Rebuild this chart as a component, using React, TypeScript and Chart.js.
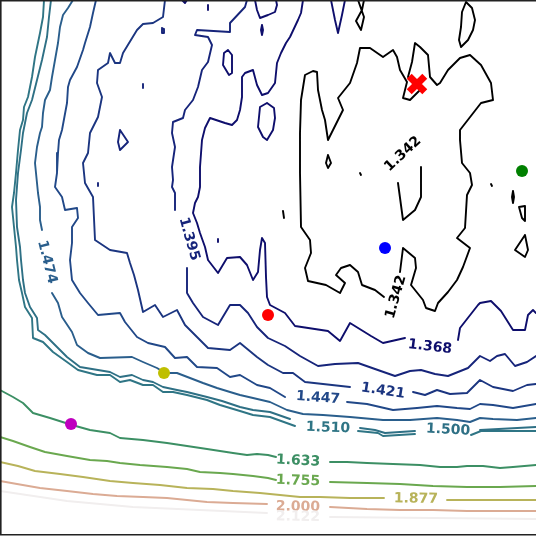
import React, { useEffect, useRef } from 'react';
import { Chart, registerables } from 'chart.js';

Chart.register(...registerables);

type Pt = [number, number];

// plot domain (data units)
const xDomain = [0, 536];
const yDomain = [0, 536];

// contour levels and colours
const levelNames = ['1.342', '1.368', '1.395', '1.421', '1.447', '1.474', '1.500', '1.510', '1.633', '1.755', '1.877', '2.000', '2.122'];
const levelColors = ['#000000', '#0e0e6c', '#16247a', '#1b3580', '#214888', '#2a5e8c', '#2e7085', '#2f7585', '#3c8f64', '#6aa84f', '#b8b35a', '#dbab94', '#f1eeee'];

const c1342: Pt[][] = [
  [[400,272],[403,248],[415,258],[416,268],[411,285],[423,300],[426,308],[435,311],[438,303],[448,292],[457,280],[463,267],[470,248],[457,238],[465,228],[467,195],[472,185],[470,173],[462,163],[460,140],[460,130],[481,103],[493,100],[491,83],[481,65],[470,55],[460,58],[448,70],[440,83],[437,85],[430,77],[428,55],[420,47],[415,43],[412,62],[408,77],[415,83],[423,87],[410,100],[403,98],[407,82],[400,70],[397,57],[393,50],[383,57],[370,48],[360,48],[357,63],[350,83],[338,98],[343,110],[333,130],[328,140],[325,120],[322,110],[318,90],[317,72],[313,71],[305,75],[301,100],[300,133],[300,173],[301,227],[310,240],[311,253],[305,268],[308,281],[326,285],[340,293],[345,283],[336,275],[341,268],[350,265],[358,272],[362,285],[375,290],[384,297]],
  [[421,167],[421,197],[415,210],[403,220],[398,183]],
  [[328,155],[331,163],[328,168],[326,163],[328,155]],
  [[358,0],[364,17],[361,30],[356,21],[362,10],[364,0]],
  [[466,2],[472,8],[475,20],[473,30],[468,40],[461,47],[459,40],[461,27],[462,12],[466,2]],
  [[360,173],[361,175]],
  [[491,184],[492,186]],
  [[283,211],[284,218]],
  [[513,191],[514,197],[513,203],[512,197],[513,191]],
  [[519,207],[525,206],[525,221],[522,218],[519,207]],
  [[525,235],[528,250],[525,257],[515,250],[525,235]],
];

const c1368: Pt[][] = [
  [[303,0],[301,13],[298,20],[290,37],[286,43],[281,53],[277,63],[275,83],[268,93],[262,95],[257,85],[253,70],[245,73],[242,77],[242,97],[240,110],[237,120],[232,125],[225,123],[210,118],[205,128],[202,140],[200,167],[200,187],[198,197],[195,203],[193,213],[197,223],[200,233],[205,247],[208,260],[218,273],[227,258],[240,257],[247,265],[253,280],[258,272],[260,250],[262,238],[265,243],[266,277],[267,297],[270,305],[285,313],[295,326],[328,331],[340,341],[350,323],[371,336],[383,343],[405,338]],
  [[458,340],[460,328],[478,305],[480,303],[491,301],[501,311],[513,330],[525,330],[528,315],[533,310],[536,313]],
  [[255,0],[257,10],[260,18],[268,15],[275,12],[277,5],[276,0]],
  [[331,0],[335,20],[338,33],[342,15],[345,0]],
  [[228,50],[232,55],[232,73],[229,75],[223,65],[224,53],[228,50]],
  [[267,103],[274,108],[275,118],[273,130],[267,140],[263,137],[258,127],[260,107],[267,103]],
  [[262,25],[263,30],[262,35],[261,30],[262,25]],
  [[218,239],[218,242]],
  [[208,5],[208,10]],
  [[182,0],[185,3],[187,0]],
];

const c1395: Pt[][] = [
  [[247,0],[245,7],[230,23],[230,32],[197,30],[195,35],[208,37],[212,45],[208,62],[202,70],[198,87],[193,100],[185,110],[183,118],[173,122],[172,133],[175,147],[172,167],[173,180],[172,187],[175,193],[175,210]],
  [[187,268],[187,293],[193,303],[203,317],[218,325],[230,305],[240,305],[248,313],[257,327],[268,338],[285,346],[300,356],[318,366],[335,364],[358,363],[375,369],[395,376],[410,371],[421,370],[435,374],[448,376],[468,368],[480,356],[486,359],[490,361],[497,356],[505,354],[515,366],[527,362],[536,356]],
  [[120,130],[128,142],[120,150],[118,142],[120,130]],
  [[162,28],[164,29],[164,33],[162,33],[162,28]],
  [[143,84],[143,88]],
  [[98,183],[98,186]],
];

const c1421: Pt[][] = [
  [[165,0],[163,17],[153,23],[143,24],[137,30],[123,53],[120,63],[115,63],[110,53],[108,63],[98,70],[97,83],[102,97],[98,117],[90,133],[88,153],[83,163],[85,183],[93,197],[95,240],[110,250],[127,253],[130,263],[134,275],[138,290],[143,312],[155,305],[163,317],[177,310],[185,325],[197,337],[208,348],[230,350],[240,343],[257,357],[268,365],[283,373],[293,373],[305,382],[350,387]],
  [[413,392],[425,395],[437,390],[450,394],[467,393],[480,380],[493,387],[513,391],[527,385],[536,384]],
];

const c1447: Pt[][] = [
  [[96,0],[93,13],[90,27],[85,43],[83,50],[77,67],[70,80],[68,87],[67,103],[62,130],[59,140],[58,153],[57,173],[55,187],[62,197],[65,210],[77,208],[78,218],[72,227],[72,243],[70,260],[72,280],[80,293],[88,303],[98,315],[120,313],[125,322],[137,337],[148,343],[165,347],[175,358],[187,357],[197,367],[217,368],[230,377],[240,375],[257,385],[270,388],[285,397]],
  [[347,402],[367,404],[393,410],[417,408],[437,406],[457,408],[470,409],[480,404],[493,405],[513,408],[536,404]],
];

const c1474: Pt[][] = [
  [[73,0],[68,8],[63,15],[60,27],[58,43],[55,60],[52,77],[50,90],[45,100],[43,113],[42,127],[40,133],[37,147],[35,163],[37,183],[38,193],[40,207],[40,220],[42,230]],
  [[52,293],[58,303],[62,317],[72,332],[77,345],[88,353],[100,358],[132,357],[143,362],[157,368],[165,373],[177,373],[190,378],[203,383],[217,388],[230,392],[240,395],[253,398],[270,402],[287,410],[303,414],[323,415],[350,417],[383,420],[410,420],[437,418],[457,420],[470,422],[480,418],[493,419],[517,420],[536,418]],
];

const c1500: Pt[][] = [
  [[51,0],[49,17],[47,37],[42,60],[37,80],[32,100],[27,113],[23,133],[21,150],[18,173],[16,200],[17,227],[20,247],[21,260],[23,280],[25,293],[30,307],[37,318],[38,330],[45,335],[57,347],[67,357],[80,367],[98,370],[110,372],[120,377],[132,375],[143,380],[153,382],[163,387],[177,390],[187,392],[207,397],[222,401],[240,407],[253,410],[270,412],[290,419]],
  [[360,428],[375,430],[385,433],[415,431]],
  [[480,430],[536,427]],
];

const c1510: Pt[][] = [
  [[44,0],[43,17],[40,33],[35,57],[32,77],[28,97],[24,107],[23,120],[20,130],[18,150],[16,173],[14,193],[12,207],[14,227],[16,247],[17,260],[19,280],[22,293],[25,307],[32,318],[33,338],[43,342],[53,352],[67,362],[78,370],[97,375],[110,375],[120,382],[130,380],[143,385],[153,385],[163,392],[173,392],[187,395],[207,400],[220,405],[240,411],[253,415],[270,417],[295,426]],
  [[358,431],[378,433],[383,436],[415,434]],
  [[471,435],[481,431],[536,431]],
];

const c1633: Pt[][] = [
  [[0,390],[13,397],[23,403],[33,413],[50,418],[72,425],[90,430],[110,433],[120,438],[143,440],[167,443],[187,446],[207,449],[220,451],[233,453],[247,455],[257,454],[268,455],[276,457]],
  [[330,462],[347,462],[367,463],[393,464],[420,465],[440,467],[457,467],[467,466],[483,466],[500,468],[513,467],[536,465]],
];

const c1755: Pt[][] = [
  [[0,437],[13,441],[30,447],[45,452],[67,456],[90,460],[107,461],[120,463],[140,465],[167,467],[187,469],[200,472],[220,473],[233,474],[253,476],[268,478],[276,480]],
  [[330,482],[367,483],[400,484],[433,486],[467,487],[500,487],[536,486]],
];

const c1877: Pt[][] = [
  [[0,462],[18,466],[35,471],[60,474],[83,477],[110,481],[133,483],[160,485],[187,488],[213,489],[233,491],[260,493],[280,495],[300,497],[320,497],[350,498],[367,498],[384,498]],
  [[447,500],[483,500],[536,500]],
];

const c2000: Pt[][] = [
  [[0,481],[17,484],[40,488],[67,491],[93,494],[117,496],[143,497],[167,498],[187,500],[207,502],[233,503],[267,504]],
  [[330,507],[367,509],[400,510],[433,510],[467,511],[536,511]],
];

const c2122: Pt[][] = [
  [[0,491],[67,501],[133,507],[267,513]],
  [[330,517],[536,519]],
];

const contourSets = [c1342, c1368, c1395, c1421, c1447, c1474, c1500, c1510, c1633, c1755, c1877, c2000, c2122];

// inline contour labels
const labelLevel = [0, 0, 1, 2, 3, 4, 5, 7, 6, 8, 9, 10, 11, 12];
const labelX = [403, 396, 430, 189, 383, 318, 47, 328, 448, 298, 298, 416, 298, 298];
const labelY = [154, 297, 347, 239, 391, 398, 262, 428, 430, 461, 481, 499, 507, 517];
const labelRot = [-43, -74, 7, 74, 9, 4, 76, 2, 3, 3, 2, 1, 1, 1];

// markers
const markerX = [417, 522, 385, 268, 164, 71];
const markerY = [84, 171, 248, 315, 373, 424];
const markerColor = ['#ff0000', '#008000', '#0000ff', '#ff0000', '#bfbf00', '#bf00bf'];
const markerShape = ['crossRot', 'circle', 'circle', 'circle', 'circle', 'circle'];

const labelPlugin = {
  id: 'contourLabels',
  afterDatasetsDraw(chart: any) {
    const ctx = chart.ctx;
    const xs = chart.scales.x;
    const ys = chart.scales.y;
    ctx.save();
    for (let i = 0; i < labelX.length; i++) {
      const px = xs.getPixelForValue(labelX[i]);
      const py = ys.getPixelForValue(labelY[i]);
      ctx.save();
      ctx.translate(px, py);
      ctx.rotate((labelRot[i] * Math.PI) / 180);
      ctx.font = 'bold 14px "DejaVu Sans"';
      ctx.fillStyle = levelColors[labelLevel[i]];
      ctx.textAlign = 'center';
      ctx.textBaseline = 'middle';
      ctx.fillText(levelNames[labelLevel[i]], 0, 0);
      ctx.restore();
    }
    ctx.restore();
  },
};

const framePlugin = {
  id: 'frame',
  afterDraw(chart: any) {
    const ctx = chart.ctx;
    const a = chart.chartArea;
    ctx.save();
    ctx.strokeStyle = '#222222';
    ctx.lineWidth = 1.6;
    ctx.beginPath();
    ctx.moveTo(a.right + 2, a.top + 0.8);
    ctx.lineTo(a.left + 0.8, a.top + 0.8);
    ctx.lineTo(a.left + 0.8, a.bottom - 1.2);
    ctx.lineTo(a.right + 2, a.bottom - 1.2);
    ctx.stroke();
    ctx.restore();
  },
};

export default function App() {
  const ref = useRef<HTMLCanvasElement | null>(null);

  useEffect(() => {
    if (!ref.current) return;
    const datasets: any[] = [];
    for (let i = 0; i < markerX.length; i++) {
      const cross = markerShape[i] === 'crossRot';
      datasets.push({
        type: 'scatter',
        data: [{ x: markerX[i], y: markerY[i] }],
        pointStyle: markerShape[i],
        pointRadius: cross ? 11 : 6,
        pointBorderWidth: cross ? 7 : 0,
        pointBackgroundColor: markerColor[i],
        pointBorderColor: markerColor[i],
        showLine: false,
        clip: false,
      });
    }
    contourSets.forEach((set, li) => {
      set.forEach((poly) => {
        datasets.push({
          type: 'scatter',
          data: poly.map((p) => ({ x: p[0], y: p[1] })),
          showLine: true,
          borderColor: levelColors[li],
          borderWidth: 1.9,
          pointRadius: 0,
          borderJoinStyle: 'round',
          borderCapStyle: 'round',
          fill: false,
          tension: 0,
        });
      });
    });
    const chart = new Chart(ref.current, {
      type: 'scatter',
      data: { datasets },
      options: {
        animation: false,
        responsive: false,
        maintainAspectRatio: false,
        layout: { padding: 0, autoPadding: false },
        plugins: { legend: { display: false }, tooltip: { enabled: false } },
        scales: {
          x: { type: 'linear', display: false, min: xDomain[0], max: xDomain[1] },
          y: { type: 'linear', display: false, min: yDomain[0], max: yDomain[1], reverse: true },
        },
      },
      plugins: [labelPlugin, framePlugin],
    });
    return () => chart.destroy();
  }, []);

  return (
    <div style={{ position: 'fixed', left: 0, top: 0, width: 536, height: 536, background: '#ffffff' }}>
      <canvas ref={ref} width={536} height={536} style={{ display: 'block', width: 536, height: 536 }} />
    </div>
  );
}
